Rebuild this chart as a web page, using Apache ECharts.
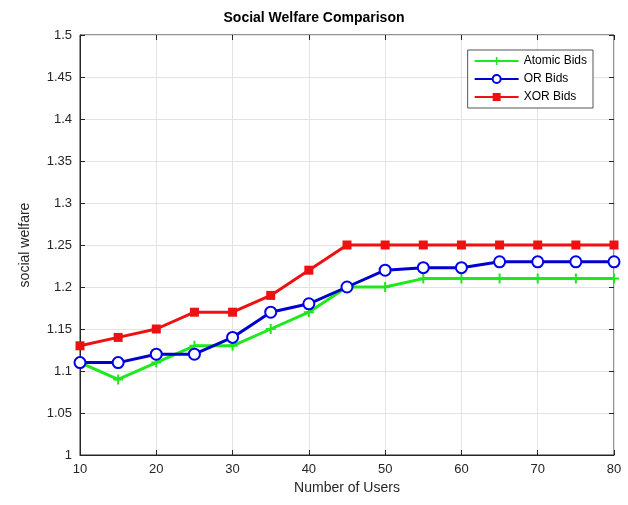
<!DOCTYPE html>
<html><head><meta charset="utf-8">
<script src="https://cdn.jsdelivr.net/npm/echarts@6/dist/echarts.min.js"></script>
<style>html,body{margin:0;padding:0;background:#fff}#c{width:628px;height:505px}</style>
</head><body><div id="c"></div>
<script>
const users = [10,15,20,25,30,35,40,45,50,55,60,65,70,75,80];
const atomicBids = [1.11,1.09,1.11,1.13,1.13,1.15,1.17,1.20,1.20,1.21,1.21,1.21,1.21,1.21,1.21];
const orBids = [1.11,1.11,1.12,1.12,1.14,1.17,1.18,1.20,1.22,1.223,1.223,1.23,1.23,1.23,1.23];
const xorBids = [1.13,1.14,1.15,1.17,1.17,1.19,1.22,1.25,1.25,1.25,1.25,1.25,1.25,1.25,1.25];
const seriesNames = ['Atomic Bids','OR Bids','XOR Bids'];

const font = 'Liberation Sans, Arial, sans-serif';
const plus = 'path://M4,0 L6,0 L6,4 L10,4 L10,6 L6,6 L6,10 L4,10 L4,6 L0,6 L0,4 L4,4 Z';
const chart = echarts.init(document.getElementById('c'));
const toPairs = arr => arr.map((v,i)=>[users[i], v]);
const axisCommon = {
  axisLine:{show:true,lineStyle:{color:'#262626',width:1}},
  axisTick:{show:true,inside:true,length:5,lineStyle:{color:'#262626'}},
  splitLine:{show:true,lineStyle:{color:'#e3e3e3',width:1}}
};
chart.setOption({
  animation:false,
  backgroundColor:'#fff',
  title:{text:'Social Welfare Comparison',left:'center',top:6,
    textStyle:{fontFamily:font,fontSize:14,fontWeight:'bold',color:'#000'}},
  grid:{left:80,right:14,top:35,bottom:50,show:true,borderColor:'#262626',borderWidth:1},
  legend:{orient:'vertical',right:35,top:50,data:seriesNames,
    backgroundColor:'#fff',borderColor:'#555',borderWidth:1,padding:[5,6,5,6],
    itemWidth:44,itemHeight:10,itemGap:6,
    textStyle:{fontFamily:font,fontSize:12,color:'#000'}},
  xAxis:[{type:'value',min:10,max:80,interval:10,...axisCommon,
    name:'Number of Users',nameLocation:'middle',nameGap:26,
    nameTextStyle:{fontFamily:font,fontSize:14,color:'#262626'},
    axisLabel:{fontFamily:font,fontSize:13,color:'#262626',margin:8}},
   {type:'value',position:'top',min:10,max:80,interval:10,
    axisLine:{show:false},axisTick:{show:true,inside:true,length:5,lineStyle:{color:'#262626'}},
    axisLabel:{show:false},splitLine:{show:false}}],
  yAxis:[{type:'value',min:1,max:1.5,interval:0.05,...axisCommon,
    name:'social welfare',nameLocation:'middle',nameGap:48,
    nameTextStyle:{fontFamily:font,fontSize:14,color:'#262626'},
    axisLabel:{fontFamily:font,fontSize:13,color:'#262626',margin:8,
      formatter:v=>String(parseFloat(v.toFixed(2)))}},
   {type:'value',position:'right',min:1,max:1.5,interval:0.05,
    axisLine:{show:false},axisTick:{show:true,inside:true,length:5,lineStyle:{color:'#262626'}},
    axisLabel:{show:false},splitLine:{show:false}}],
  series:[
    {name:seriesNames[0],type:'line',data:toPairs(atomicBids),
      lineStyle:{width:3,color:'#1ee81e'},symbol:plus,symbolSize:10,
      itemStyle:{color:'#1ee81e'}},
    {name:seriesNames[1],type:'line',data:toPairs(orBids),
      lineStyle:{width:3,color:'#0000cc'},symbol:'emptyCircle',symbolSize:11,
      itemStyle:{color:'#0000ee',borderColor:'#0000ee',borderWidth:2.5}},
    {name:seriesNames[2],type:'line',data:toPairs(xorBids),
      lineStyle:{width:3,color:'#ee1111'},symbol:'rect',symbolSize:9,
      itemStyle:{color:'#ee1111'}}
  ]
});
</script></body></html>
